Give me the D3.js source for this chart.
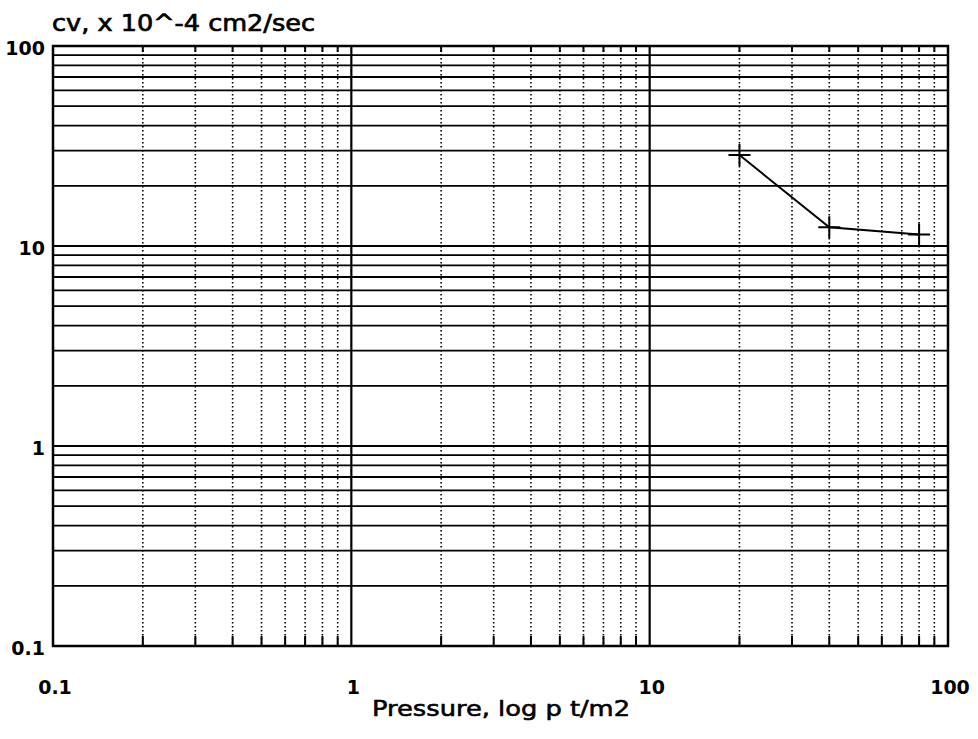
<!DOCTYPE html>
<html>
<head>
<meta charset="utf-8">
<script src="https://cdn.jsdelivr.net/npm/d3@7"></script>
<style>
  body { margin: 0; background: #fff; }
  text { font-family: "DejaVu Sans", Arial, sans-serif; fill: #000; }
</style>
</head>
<body>
<svg id="chart"></svg>
<script>
const width = 978, height = 739;

// données
const pressure = [20, 40, 80];
const cv = [28.5, 12.4, 11.4];
const xTicks = [0.1, 1, 10, 100];
const yTicks = [0.1, 1, 10, 100];
const title = "cv, x 10^-4 cm2/sec";
const xLabel = "Pressure, log p t/m2";

const margin = {left: 53, right: 30, top: 46, bottom: 93};

const x = d3.scaleLog().domain([0.1, 100]).range([margin.left, width - margin.right]);
const y = d3.scaleLog().domain([0.1, 100]).range([height - margin.bottom, margin.top]);

const svg = d3.select("#chart")
    .attr("width", width)
    .attr("height", height);

// graduations mineures (2..9 de chaque décade)
const minorX = x.ticks().filter(v => xTicks.indexOf(v) < 0);

// lignes horizontales : toutes pleines
svg.append("g").selectAll("line")
    .data(y.ticks())
    .enter().append("line")
    .attr("x1", x.range()[0])
    .attr("x2", x.range()[1])
    .attr("y1", d => y(d))
    .attr("y2", d => y(d))
    .attr("stroke", "#000")
    .attr("stroke-width", 1.8);

// lignes verticales mineures en pointillés
svg.append("g").selectAll("line")
    .data(minorX)
    .enter().append("line")
    .attr("x1", d => x(d))
    .attr("x2", d => x(d))
    .attr("y1", y.range()[1])
    .attr("y2", y.range()[0])
    .attr("stroke", "#000")
    .attr("stroke-width", 1.6)
    .attr("stroke-dasharray", "1.5,2.5");

// petites marques pleines en bas et en haut
[y.range()[0], y.range()[1]].forEach((yy, i) => {
    svg.append("g").selectAll("line")
        .data(minorX)
        .enter().append("line")
        .attr("x1", d => x(d))
        .attr("x2", d => x(d))
        .attr("y1", yy)
        .attr("y2", i === 0 ? yy - 10 : yy + 6)
        .attr("stroke", "#000")
        .attr("stroke-width", 2);
});

// lignes verticales principales
svg.append("g").selectAll("line")
    .data(xTicks.slice(1, -1))
    .enter().append("line")
    .attr("x1", d => x(d))
    .attr("x2", d => x(d))
    .attr("y1", y.range()[1])
    .attr("y2", y.range()[0])
    .attr("stroke", "#000")
    .attr("stroke-width", 2.2);

// cadre
svg.append("rect")
    .attr("x", x.range()[0])
    .attr("y", y.range()[1])
    .attr("width", x.range()[1] - x.range()[0])
    .attr("height", y.range()[0] - y.range()[1])
    .attr("fill", "none")
    .attr("stroke", "#000")
    .attr("stroke-width", 2.5);

// étiquettes
svg.append("g").selectAll("text")
    .data(yTicks)
    .enter().append("text")
    .attr("x", 45)
    .attr("y", d => y(d) + 9)
    .attr("text-anchor", "end")
    .attr("font-size", 19)
    .attr("font-weight", "bold")
    .text(d => d);

svg.append("g").selectAll("text")
    .data(xTicks)
    .enter().append("text")
    .attr("x", d => x(d) + 2)
    .attr("y", 694)
    .attr("text-anchor", "middle")
    .attr("font-size", 19)
    .attr("font-weight", "bold")
    .text(d => d);

svg.append("text")
    .attr("x", 52)
    .attr("y", 31)
    .attr("font-size", 23)
    .attr("stroke", "#000")
    .attr("stroke-width", 0.7)
    .attr("textLength", 263)
    .attr("lengthAdjust", "spacingAndGlyphs")
    .text(title);

svg.append("text")
    .attr("x", 372)
    .attr("y", 716)
    .attr("font-size", 22)
    .attr("stroke", "#000")
    .attr("stroke-width", 0.6)
    .attr("textLength", 258)
    .attr("lengthAdjust", "spacingAndGlyphs")
    .text(xLabel);

// courbe
const pts = pressure.map((p, i) => [p, cv[i]]);
svg.append("path")
    .datum(pts)
    .attr("fill", "none")
    .attr("stroke", "#000")
    .attr("stroke-width", 2)
    .attr("d", d3.line().x(d => x(d[0])).y(d => y(d[1])));

svg.append("g").selectAll("path")
    .data(pts)
    .enter().append("path")
    .attr("transform", d => `translate(${x(d[0])},${y(d[1])})`)
    .attr("d", "M-11,0H11M0,-11V11")
    .attr("stroke", "#000")
    .attr("stroke-width", 2);
</script>
</body>
</html>
